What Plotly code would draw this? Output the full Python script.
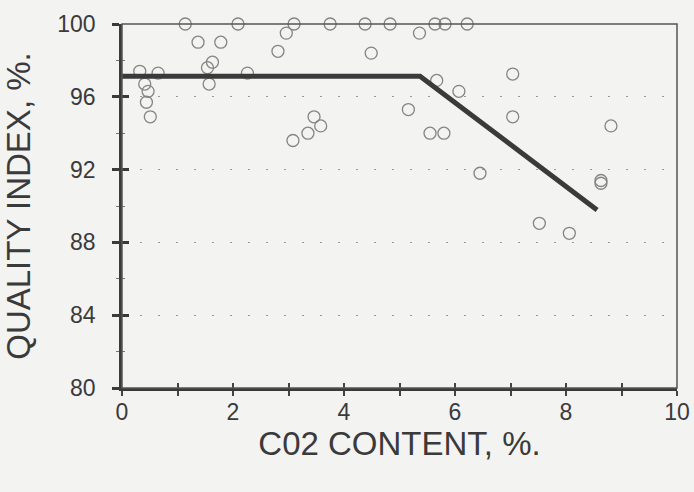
import plotly.graph_objects as go

# Scatter data (CO2 content %, quality index %)
co2 = [1.14, 2.09, 3.10, 3.75, 4.38, 4.83, 5.64, 5.82, 6.22,
       1.37, 1.78, 2.96, 2.81, 5.36, 4.49, 1.63, 1.54, 1.57,
       0.32, 0.65, 0.41, 0.47, 0.44, 0.51, 2.26, 3.08, 3.46,
       3.58, 3.35, 5.67, 6.07, 5.16, 5.55, 5.80, 7.04, 7.04,
       8.81, 8.63, 8.63, 6.45, 7.52, 8.06]
quality = [100, 100, 100, 100, 100, 100, 100, 100, 100,
           99.0, 99.0, 99.5, 98.5, 99.5, 98.4, 97.9, 97.6, 96.7,
           97.4, 97.3, 96.7, 96.3, 95.7, 94.9, 97.3, 93.6, 94.9,
           94.4, 94.0, 96.9, 96.3, 95.3, 94.0, 94.0, 97.25, 94.9,
           94.4, 91.4, 91.25, 91.8, 89.05, 88.5]

# Fitted broken-line model
fit_x = [0, 5.37, 8.56]
fit_y = [97.13, 97.13, 89.78]

x_ticks = [0, 2, 4, 6, 8, 10]
y_ticks = [80, 84, 88, 92, 96, 100]

font_family = "Liberation Sans, Arial, sans-serif"
bg = "#f3f3f2"
ink = "#3a3a3a"

fig = go.Figure()
fig.add_trace(go.Scatter(
    x=co2, y=quality, mode="markers",
    marker=dict(symbol="circle-open", size=12, color="#858585", line=dict(width=1.3)),
    cliponaxis=False, showlegend=False, hoverinfo="skip"))
fig.add_trace(go.Scatter(
    x=fit_x, y=fit_y, mode="lines",
    line=dict(color=ink, width=5),
    showlegend=False, hoverinfo="skip"))
# invisible trace to activate overlay axes for crossing ticks
fig.add_trace(go.Scatter(x=[0], y=[80], xaxis="x2", yaxis="y2", mode="markers",
                         marker=dict(opacity=0), showlegend=False, hoverinfo="skip"))

fig.update_layout(
    width=694, height=492,
    margin=dict(l=122, r=17, t=24, b=104, autoexpand=False),
    paper_bgcolor=bg, plot_bgcolor=bg,
    font=dict(family=font_family, color=ink),
    xaxis=dict(
        range=[0, 10], tickvals=x_ticks, ticktext=[str(v) for v in x_ticks],
        ticks="outside", ticklen=5, tickwidth=1.5, tickcolor="#444",
        minor=dict(dtick=1, ticks="outside", ticklen=5, tickwidth=1.5, tickcolor="#444"),
        showline=True, linecolor=ink, linewidth=2.5,
        showgrid=False, zeroline=False,
        tickfont=dict(size=23, color=ink), ticklabelstandoff=-3,
        title=dict(text="C02 CONTENT, %.", font=dict(size=33, color=ink), standoff=3),
        automargin=False,
    ),
    yaxis=dict(
        range=[80, 100], tickvals=y_ticks, ticktext=[str(v) for v in y_ticks],
        ticks="outside", ticklen=7, tickwidth=2.5, tickcolor=ink,
        minor=dict(dtick=2, ticks="outside", ticklen=3, tickwidth=1, tickcolor="#777", showgrid=False),
        showline=True, linecolor=ink, linewidth=2.5,
        showgrid=True, gridcolor="#999999", gridwidth=1.2, griddash="2px,16px",
        zeroline=False,
        tickfont=dict(size=23, color=ink), ticklabelstandoff=12,
        title=dict(text="QUALITY INDEX, %.", font=dict(size=33, color=ink), standoff=18),
        automargin=False,
    ),
    xaxis2=dict(overlaying="x", range=[0, 10], side="bottom", anchor="y2",
                tickvals=list(range(0, 11)), ticks="inside", ticklen=5, tickwidth=1.5,
                tickcolor="#444", showticklabels=False, showgrid=False, zeroline=False,
                showline=False),
    yaxis2=dict(overlaying="y", range=[80, 100], side="left", anchor="x2",
                tickvals=y_ticks, ticks="inside", ticklen=7, tickwidth=2.5,
                tickcolor=ink,
                minor=dict(dtick=2, ticks="inside", ticklen=3, tickwidth=1, tickcolor="#777"),
                showticklabels=False, showgrid=False, zeroline=False, showline=False),
    shapes=[dict(type="rect", xref="paper", yref="paper", x0=0, x1=1, y0=0, y1=1,
                 line=dict(color="#555555", width=1.5), layer="above")],
)

fig.write_html("out.html", config={"displayModeBar": False},
               post_script="document.body.style.margin='0';document.body.style.background='%s';" % bg)
